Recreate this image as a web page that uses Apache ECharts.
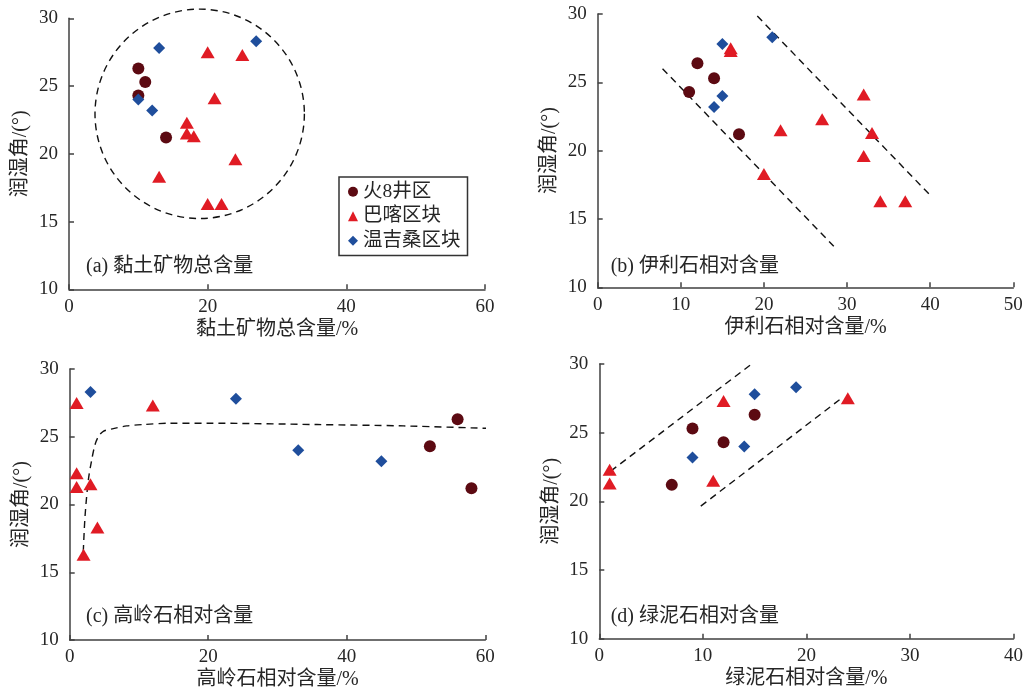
<!DOCTYPE html>
<html>
<head>
<meta charset="utf-8">
<script src="https://cdn.jsdelivr.net/npm/echarts@6/dist/echarts.min.js"></script>
<style>
html,body{margin:0;padding:0;background:#fff;}
#main{width:1026px;height:695px;}
</style>
</head>
<body>
<div id="main"></div>
<script>
// ---------- data ----------
const groupNames = ['火8井区', '巴喀区块', '温吉桑区块'];
const panelLabels = ['(a) 黏土矿物总含量', '(b) 伊利石相对含量', '(c) 高岭石相对含量', '(d) 绿泥石相对含量'];
const xTitles = ['黏土矿物总含量/%', '伊利石相对含量/%', '高岭石相对含量/%', '绿泥石相对含量/%'];
const yTitle = '润湿角/(°)';
const xMax = [60, 50, 60, 40];
const xInterval = [20, 10, 20, 10];

// (a) clay total
const aHuoX = [10, 11, 10, 14];
const aHuoY = [26.3, 25.3, 24.3, 21.2];
const aBakaX = [20, 25, 21, 17, 17, 18, 24, 13, 20, 22];
const aBakaY = [27.5, 27.3, 24.1, 22.3, 21.5, 21.3, 19.6, 18.3, 16.3, 16.3];
const aWenX = [13, 27, 10, 12];
const aWenY = [27.8, 28.3, 24.0, 23.2];
// (b) illite
const bHuoX = [12, 14, 11, 17];
const bHuoY = [26.4, 25.3, 24.3, 21.2];
const bBakaX = [16, 16, 32, 27, 22, 33, 32, 20, 34, 37];
const bBakaY = [27.5, 27.3, 24.1, 22.3, 21.5, 21.3, 19.6, 18.3, 16.3, 16.3];
const bWenX = [15, 21, 15, 14];
const bWenY = [27.8, 28.3, 24.0, 23.2];
// (c) kaolinite
const cHuoX = [56, 52, 58];
const cHuoY = [26.3, 24.3, 21.2];
const cBakaX = [1, 12, 1, 1, 3, 4, 2];
const cBakaY = [27.5, 27.3, 22.3, 21.3, 21.5, 18.3, 16.3];
const cWenX = [3, 24, 33, 45];
const cWenY = [28.3, 27.8, 24.0, 23.2];
// (d) chlorite
const dHuoX = [9, 15, 12, 7];
const dHuoY = [25.3, 26.3, 24.3, 21.2];
const dBakaX = [1, 1, 12, 11, 24];
const dBakaY = [22.3, 21.3, 27.3, 21.5, 27.5];
const dWenX = [19, 15, 14, 9];
const dWenY = [28.3, 27.8, 24.0, 23.2];

// trend annotations
const aCircleCenter = [18.85, 22.95];
const aCircleRadiusX = 15.1;
const bLine1X = [7.8, 28.4];  const bLine1Y = [26.0, 13.0];
const bLine2X = [19.2, 39.9]; const bLine2Y = [29.85, 16.8];
const cCurveX = [1.96, 2.21, 2.69, 3.18, 3.65, 4.13, 4.85, 6.29, 8.23, 10.6, 14.5, 20, 35.7, 48.2, 61.5];
const cCurveY = [16.5, 19.1, 21.8, 23.3, 24.4, 25.0, 25.4, 25.6, 25.8, 25.9, 26.0, 26.0, 25.9, 25.8, 25.6];
const dLine1X = [1.1, 14.8];  const dLine1Y = [22.2, 30.05];
const dLine2X = [9.8, 23.2];  const dLine2Y = [19.65, 27.4];

// ---------- styling ----------
const FONT = "'Liberation Serif', 'Noto Sans CJK SC', serif";
const TXT = '#262626';
const AX = '#404040';
const colors = ['#5c0a12', '#e01b24', '#1f4e9c'];
const symbols = ['circle', 'triangle', 'diamond'];
const symSizes = [12, [14, 12], 12];

const grids = [
  {left: 69, top: 18.3, width: 416, height: 271},
  {left: 597.7, top: 14, width: 415.6, height: 273.3},
  {left: 69.7, top: 369, width: 415.6, height: 271},
  {left: 599.3, top: 364, width: 415.7, height: 274.7}
];

const zip = (xs, ys) => xs.map((x, i) => [x, ys[i]]);
const panelData = [
  [zip(aHuoX, aHuoY), zip(aBakaX, aBakaY), zip(aWenX, aWenY)],
  [zip(bHuoX, bHuoY), zip(bBakaX, bBakaY), zip(bWenX, bWenY)],
  [zip(cHuoX, cHuoY), zip(cBakaX, cBakaY), zip(cWenX, cWenY)],
  [zip(dHuoX, dHuoY), zip(dBakaX, dBakaY), zip(dWenX, dWenY)]
];

const xAxes = grids.map((g, i) => ({
  gridIndex: i, type: 'value', min: 0, max: xMax[i], interval: xInterval[i],
  name: xTitles[i], nameLocation: 'middle', nameGap: 30,
  nameTextStyle: {fontFamily: FONT, fontSize: 20, color: TXT},
  axisLine: {show: true, lineStyle: {color: AX, width: 1.5}},
  axisTick: {show: true, inside: true, length: 5, lineStyle: {color: AX, width: 1.5}},
  axisLabel: {fontFamily: FONT, fontSize: 19, color: TXT, margin: 8},
  splitLine: {show: false}
}));
const yAxes = grids.map((g, i) => ({
  gridIndex: i, type: 'value', min: 10, max: 30, interval: 5,
  name: yTitle, nameLocation: 'middle', nameGap: 38,
  nameTextStyle: {fontFamily: FONT, fontSize: 20, color: TXT},
  axisLine: {show: true, lineStyle: {color: AX, width: 1.5}},
  axisTick: {show: true, inside: true, length: 5, lineStyle: {color: AX, width: 1.5}},
  axisLabel: {fontFamily: FONT, fontSize: 19, color: TXT, margin: 11},
  splitLine: {show: false}
}));

const series = [];
const dashStyle = {color: '#111', width: 1.4, type: [7, 5]};
function dashLine(i, xs, ys) {
  series.push({
    type: 'line', xAxisIndex: i, yAxisIndex: i, data: zip(xs, ys),
    symbol: 'none', smooth: false, clip: false, silent: true,
    lineStyle: dashStyle, z: 1
  });
}
dashLine(1, bLine1X, bLine1Y);
dashLine(1, bLine2X, bLine2Y);
series.push({
  type: 'line', xAxisIndex: 2, yAxisIndex: 2, data: zip(cCurveX, cCurveY),
  symbol: 'none', smooth: 0.3, clip: false, silent: true, lineStyle: dashStyle, z: 1
});
dashLine(3, dLine1X, dLine1Y);
dashLine(3, dLine2X, dLine2Y);

panelData.forEach((groups, p) => {
  groups.forEach((pts, g) => {
    series.push({
      type: 'scatter', name: groupNames[g], xAxisIndex: p, yAxisIndex: p,
      data: pts, symbol: symbols[g], symbolSize: symSizes[g],
      itemStyle: {color: colors[g], opacity: 1}, z: 3
    });
  });
});

const labelPos = [[86, 266.7], [610.7, 266.7], [86, 616.7], [610.7, 616.7]];
const graphics = panelLabels.map((t, i) => ({
  type: 'text', id: 'lbl' + i, x: labelPos[i][0], y: labelPos[i][1],
  style: {text: t, fontFamily: FONT, fontSize: 20, fill: TXT, verticalAlign: 'middle', align: 'left'}
}));

const chart = echarts.init(document.getElementById('main'), null, {renderer: 'canvas'});
chart.setOption({
  backgroundColor: '#fff',
  animation: false,
  grid: grids.map(g => Object.assign({containLabel: false}, g)),
  xAxis: xAxes,
  yAxis: yAxes,
  legend: {
    show: true, orient: 'vertical', left: 339, top: 177,
    data: groupNames.map((n, i) => ({name: n, icon: symbols[i]})),
    itemWidth: 10, itemHeight: 10, itemGap: 5,
    padding: [5, 7, 5, 9],
    borderColor: '#333', borderWidth: 1.5,
    textStyle: {fontFamily: FONT, fontSize: 19.5, color: TXT},
    selectedMode: false
  },
  series: series,
  graphic: graphics
});

// dashed circle in panel (a) placed through the axis scales
const c0 = chart.convertToPixel({gridIndex: 0}, aCircleCenter);
const c1 = chart.convertToPixel({gridIndex: 0}, [aCircleCenter[0] + aCircleRadiusX, aCircleCenter[1]]);
const r = c1[0] - c0[0];
chart.setOption({
  graphic: graphics.concat([{
    type: 'circle', id: 'circA', shape: {cx: c0[0], cy: c0[1], r: r}, z: 1, silent: true,
    style: {fill: 'none', stroke: '#111', lineWidth: 1.4, lineDash: [7, 5]}
  }])
});
</script>
</body>
</html>
